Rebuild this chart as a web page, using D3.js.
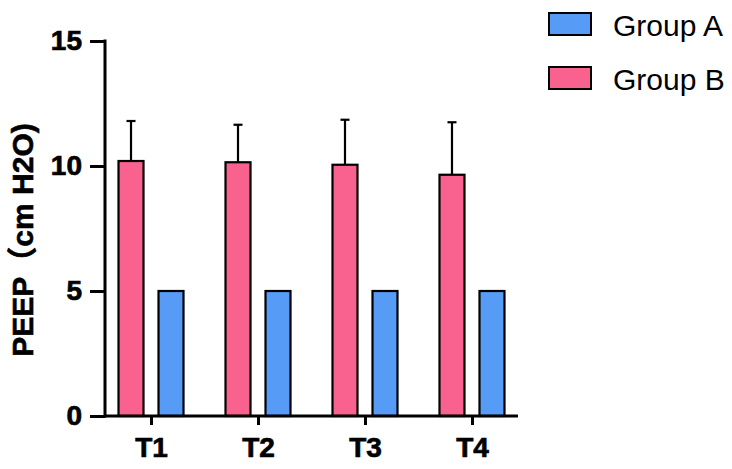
<!DOCTYPE html>
<html lang="en">
<head>
    <meta charset="UTF-8">
    <title>PEEP</title>
    <script src="https://d3js.org/d3.v7.min.js"></script>
    <style>
        body { margin: 0; background: #fff; }
        text { font-family: "Liberation Sans", Arial, "Noto Sans CJK SC", sans-serif; }
    </style>
    <script>
        const categories = ["T1", "T2", "T3", "T4"];
        const groupA = [5, 5, 5, 5];
        const groupB = [10.2, 10.15, 10.05, 9.65];
        const groupBErrTop = [11.8, 11.65, 11.85, 11.75];
        const yTicks = [0, 5, 10, 15];
        const legendLabels = ["Group A", "Group B"];
        const colors = ["#569bf6", "#f9628f"];

        document.addEventListener("DOMContentLoaded", () => makeGraph());

        function makeGraph() {
            const svg = d3.select("svg").attr("width", 732).attr("height", 469);

            const y = d3.scaleLinear().domain([0, 15]).range([416, 41]);
            const x = d3.scalePoint().domain(categories).range([105, 518]).padding(0.43);
            const offset = 20, barW = 25;

            // bars, group B on the left, group A on the right
            const bars = svg.append("g");
            categories.forEach((c, i) => {
                bars.append("rect")
                    .attr("x", x(c) - offset - barW / 2)
                    .attr("y", y(groupB[i]))
                    .attr("width", barW)
                    .attr("height", y(0) - y(groupB[i]))
                    .attr("fill", colors[1]).attr("stroke", "#000").attr("stroke-width", 2.2);
                bars.append("line")
                    .attr("x1", x(c) - offset).attr("x2", x(c) - offset)
                    .attr("y1", y(groupB[i])).attr("y2", y(groupBErrTop[i]))
                    .attr("stroke", "#000").attr("stroke-width", 2.2);
                bars.append("line")
                    .attr("x1", x(c) - offset - 4.5).attr("x2", x(c) - offset + 4.5)
                    .attr("y1", y(groupBErrTop[i])).attr("y2", y(groupBErrTop[i]))
                    .attr("stroke", "#000").attr("stroke-width", 2.2);
                bars.append("rect")
                    .attr("x", x(c) + offset - barW / 2)
                    .attr("y", y(groupA[i]))
                    .attr("width", barW)
                    .attr("height", y(0) - y(groupA[i]))
                    .attr("fill", colors[0]).attr("stroke", "#000").attr("stroke-width", 2.2);
            });

            // axes
            const yAxis = svg.append("g").attr("transform", "translate(105,0)")
                .call(d3.axisLeft(y).tickValues(yTicks).tickSize(15).tickPadding(8));
            const xAxis = svg.append("g").attr("transform", "translate(0,416)")
                .call(d3.axisBottom(x).tickSize(9).tickPadding(12));
            [yAxis, xAxis].forEach(a => {
                a.select(".domain").attr("stroke-width", 3).attr("stroke", "#000");
                a.selectAll(".tick line").attr("stroke-width", 3).attr("stroke", "#000");
                a.selectAll(".tick text").attr("font-size", 28).attr("font-weight", "bold")
                    .attr("fill", "#000").attr("stroke", "#000").attr("stroke-width", 0.7)
                    .style("font-family", "'Liberation Sans', Arial, sans-serif");
            });
            xAxis.select(".domain").attr("d", "M105,0H518");
            yAxis.select(".domain").attr("d", "M0," + (y(15) - 1.5) + "V" + (y(0) + 1.5));

            svg.append("text")
                .attr("transform", "translate(33,240) rotate(-90)")
                .attr("text-anchor", "middle")
                .attr("font-size", 30).attr("font-weight", "bold")
                .attr("stroke", "#000").attr("stroke-width", 0.6)
                .text("PEEP（cm H2O)");

            // legend
            const lg = svg.append("g");
            legendLabels.forEach((l, i) => {
                lg.append("rect").attr("x", 549).attr("y", 13 + i * 54).attr("width", 42).attr("height", 22)
                    .attr("fill", colors[i]).attr("stroke", "#000").attr("stroke-width", 2);
                lg.append("text").attr("x", 613).attr("y", 35.5 + i * 54)
                    .attr("font-size", 30).text(l);
            });
        }
    </script>
</head>
<body>
    <svg id="graph"></svg>
</body>
</html>
